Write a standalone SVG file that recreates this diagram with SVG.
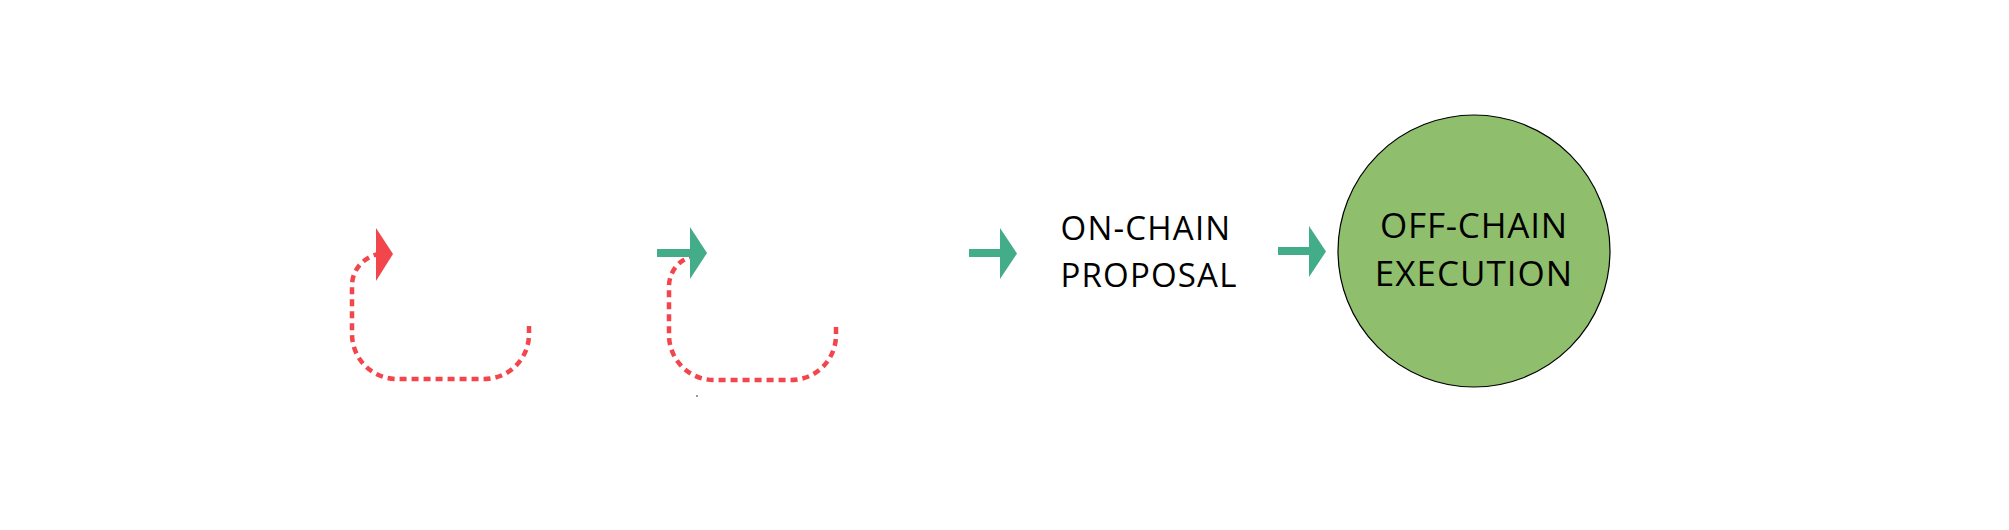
<svg xmlns="http://www.w3.org/2000/svg" width="2009" height="530" viewBox="0 0 2009 530">
<style>
.loop{fill:none;stroke:#f2464c;stroke-width:4.5;stroke-dasharray:7 5}
.shaft{fill:none;stroke:#43ac88;stroke-width:8}
.head-g{fill:#43ac88}
.head-r{fill:#f2464c}
.lbl{font-family:"Open Sans","Liberation Sans",sans-serif;fill:#000;text-anchor:middle}
</style>
<rect width="2009" height="530" fill="#fff"/>
<g id="connectors">
  <path class="loop" d="M529 326 V334 A45 45 0 0 1 484 379 H397 A45 45 0 0 1 352 334 V287 A32 32 0 0 1 380 254"/>
  <polygon class="head-r" points="376,228 393,254 376,281"/>
  <path class="loop" d="M836 327 V335 A45 45 0 0 1 791 380 H714 A45 45 0 0 1 669 335 V287 A31 31 0 0 1 690 257"/>
  <line class="shaft" x1="657" y1="253" x2="691" y2="253"/>
  <polygon class="head-g" points="690,227 707,253 690,279"/>
  <line class="shaft" x1="969" y1="253" x2="1001" y2="253"/>
  <polygon class="head-g" points="1000,228 1017,253.5 1000,279"/>
  <line class="shaft" x1="1278" y1="251" x2="1310" y2="251"/>
  <polygon class="head-g" points="1309,226 1326,251.5 1309,277"/>
  <rect x="696" y="395" width="2" height="2" fill="#999"/>
</g>
<g id="node-onchain">
  <text class="lbl" x="1146" y="240" font-size="33" letter-spacing="1.2">ON-CHAIN</text>
  <text class="lbl" x="1149" y="287" font-size="33" letter-spacing="1.2">PROPOSAL</text>
</g>
<g id="node-offchain">
  <circle cx="1474" cy="251" r="136" fill="#8fbf6c" stroke="#000" stroke-width="1.2"/>
  <text class="lbl" x="1474" y="238" font-size="35" letter-spacing="0.8">OFF-CHAIN</text>
  <text class="lbl" x="1474" y="286" font-size="35" letter-spacing="1">EXECUTION</text>
</g>
</svg>
